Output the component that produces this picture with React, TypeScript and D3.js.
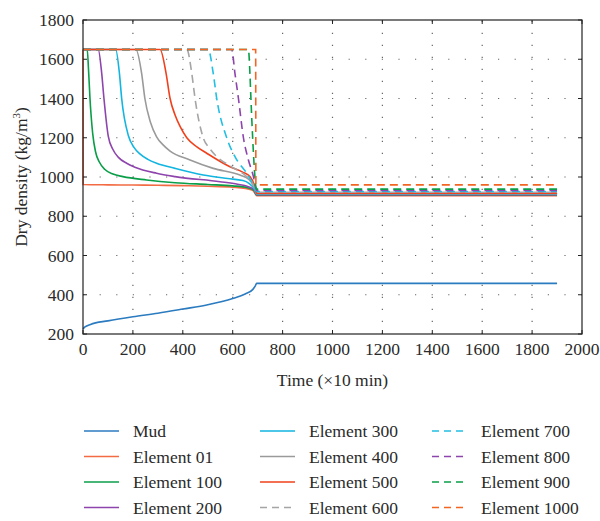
import React from "react";
import * as d3 from "d3";

// Time axis in units of 10 min, dry density in kg/m^3
const xTicks = [0, 200, 400, 600, 800, 1000, 1200, 1400, 1600, 1800, 2000];
const yTicks = [200, 400, 600, 800, 1000, 1200, 1400, 1600, 1800];

const seriesNames = [
  "Mud", "Element 01", "Element 100", "Element 200", "Element 300", "Element 400",
  "Element 500", "Element 600", "Element 700", "Element 800", "Element 900", "Element 1000",
];

const seriesColors = [
  "#2b7bc0", "#f26b43", "#0a9e48", "#8e44ad", "#12b5e0", "#9a9a9a",
  "#f0401c", "#a5a5a5", "#22bfe2", "#8e44ad", "#0a9e48", "#f26522",
];

const seriesDashed = [
  false, false, false, false, false, false, false, true, true, true, true, true,
];

// [time, dry density] samples for each series
const mud: [number, number][] = [
  [0, 226], [8, 236], [30, 249], [100, 267], [200, 288], [300, 306], [400, 327],
  [500, 349], [600, 381], [650, 404], [680, 426], [690, 444], [696, 458], [1900, 458],
];
const element01: [number, number][] = [
  [0, 1650], [0.5, 962], [100, 960], [200, 959], [300, 958], [400, 956], [500, 953],
  [600, 948], [650, 942], [680, 932], [690, 915], [696, 905], [1900, 905],
];
const element100: [number, number][] = [
  [0, 1650], [17, 1650], [22, 1550], [28, 1400], [39, 1220], [50, 1130], [66, 1075],
  [88, 1038], [120, 1015], [160, 1002], [255, 985], [369, 971], [500, 962], [600, 955],
  [660, 946], [685, 932], [696, 908], [1900, 908],
];
const element200: [number, number][] = [
  [0, 1650], [61, 1650], [75, 1528], [84, 1400], [101, 1210], [120, 1140], [142, 1100],
  [175, 1070], [208, 1050], [295, 1019], [369, 1002], [549, 976], [620, 963], [660, 952],
  [685, 936], [696, 910], [1900, 910],
];
const element300: [number, number][] = [
  [0, 1650], [131, 1650], [146, 1528], [155, 1400], [182, 1210], [205, 1150], [228, 1118],
  [260, 1090], [295, 1070], [369, 1044], [482, 1010], [580, 992], [641, 982], [665, 968],
  [686, 940], [696, 913], [1900, 913],
];
const element400: [number, number][] = [
  [0, 1650], [212, 1650], [235, 1528], [248, 1400], [270, 1280], [295, 1205], [320, 1165],
  [349, 1132], [429, 1087], [522, 1044], [629, 1010], [665, 988], [686, 950], [696, 915],
  [1900, 915],
];
const element500: [number, number][] = [
  [0, 1650], [309, 1650], [333, 1528], [349, 1400], [369, 1316], [390, 1255], [416, 1200],
  [455, 1155], [496, 1121], [589, 1052], [640, 1025], [669, 1002], [686, 962], [696, 918],
  [1900, 918],
];
const element600: [number, number][] = [
  [0, 1650], [416, 1650], [436, 1528], [449, 1400], [482, 1200], [508, 1145], [536, 1104],
  [596, 1052], [656, 1002], [681, 965], [696, 922], [1900, 922],
];
const element700: [number, number][] = [
  [0, 1650], [502, 1650], [522, 1528], [536, 1400], [576, 1200], [609, 1104], [656, 1019],
  [683, 959], [696, 926], [1900, 926],
];
const element800: [number, number][] = [
  [0, 1650], [596, 1650], [609, 1528], [623, 1400], [643, 1200], [663, 1087], [683, 1002],
  [692, 948], [697, 931], [1900, 931],
];
const element900: [number, number][] = [
  [0, 1650], [663, 1650], [669, 1528], [673, 1400], [680, 1200], [689, 1002], [693, 948],
  [697, 938], [1900, 938],
];
const element1000: [number, number][] = [
  [0, 1650], [692, 1650], [693, 960], [1900, 960],
];

const seriesData = [
  mud, element01, element100, element200, element300, element400,
  element500, element600, element700, element800, element900, element1000,
];

const W = 600;
const H = 521;
const margin = { left: 83, right: 18, top: 20, bottom: 187 };
const FONT = `"Liberation Serif"`;
const TEXT = "#2a2a2a";

export default function App() {
  const x = d3.scaleLinear().domain([0, 2000]).range([margin.left, W - margin.right]);
  const y = d3.scaleLinear().domain([200, 1800]).range([H - margin.bottom, margin.top]);
  const line = d3
    .line<[number, number]>()
    .x((d) => x(d[0]))
    .y((d) => y(d[1]))
    .curve(d3.curveMonotoneX);

  const x0 = x(0), x1 = x(2000), y0 = y(200), y1 = y(1800);

  // legend: 3 columns x 4 rows, filled column-wise
  const legendCols = [84, 260, 432];
  const legendRows = [431, 456.5, 482, 507.5];

  const textStyle = { fontFamily: FONT, fontSize: 17.5 };

  return (
    <svg
      width={W}
      height={H}
      style={{ position: "absolute", left: 0, top: 0, background: "#fff" }}
    >
      {/* dotted grid */}
      {xTicks.slice(1, -1).map((t) => (
        <line key={"gx" + t} x1={x(t)} x2={x(t)} y1={y0} y2={y1}
          stroke="#666" strokeWidth={1.2} strokeDasharray="1.2,10.8" />
      ))}
      {yTicks.slice(1, -1).map((t) => (
        <line key={"gy" + t} x1={x0} x2={x1} y1={y(t)} y2={y(t)}
          stroke="#666" strokeWidth={1.2} strokeDasharray="1.2,15.4" />
      ))}

      {/* series */}
      {seriesData.map((d, i) => (
        <path key={seriesNames[i]} d={line(d) || ""} fill="none"
          stroke={seriesColors[i]} strokeWidth={1.6}
          strokeDasharray={seriesDashed[i] ? "8,5" : undefined} />
      ))}

      {/* frame and inward ticks */}
      <rect x={x0} y={y1} width={x1 - x0} height={y0 - y1} fill="none" stroke="#222" strokeWidth={1.2} />
      <g fill={TEXT}>
        {xTicks.map((t) => (
          <g key={"tx" + t}>
            <line x1={x(t)} x2={x(t)} y1={y0} y2={y0 - 4} stroke="#222" />
            <line x1={x(t)} x2={x(t)} y1={y1} y2={y1 + 4} stroke="#222" />
            <text x={x(t)} y={y0 + 21} textAnchor="middle" style={textStyle}>{t}</text>
          </g>
        ))}
        {yTicks.map((t) => (
          <g key={"ty" + t}>
            <line x1={x0} x2={x0 + 4} y1={y(t)} y2={y(t)} stroke="#222" />
            <line x1={x1} x2={x1 - 4} y1={y(t)} y2={y(t)} stroke="#222" />
            <text x={74} y={y(t)} dy="0.35em" textAnchor="end" style={textStyle}>{t}</text>
          </g>
        ))}

        {/* axis titles */}
        <text x={(x0 + x1) / 2} y={386} textAnchor="middle" style={textStyle}>
          Time (×10 min)
        </text>
        <text transform={`translate(27,${(y0 + y1) / 2}) rotate(-90)`} textAnchor="middle" style={textStyle}>
          Dry density (kg/m<tspan dy="-7" style={{ fontSize: 11 }}>3</tspan><tspan dy="7">)</tspan>
        </text>

        {/* legend */}
        {seriesNames.map((name, i) => {
          const cx = legendCols[Math.floor(i / 4)];
          const cy = legendRows[i % 4];
          return (
            <g key={"lg" + name}>
              <line x1={cx} x2={cx + 35} y1={cy} y2={cy} stroke={seriesColors[i]} strokeWidth={1.6}
                strokeDasharray={seriesDashed[i] ? "7,5" : undefined} />
              <text x={cx + 49} y={cy} dy="0.35em" style={textStyle}>{name}</text>
            </g>
          );
        })}
      </g>
    </svg>
  );
}
